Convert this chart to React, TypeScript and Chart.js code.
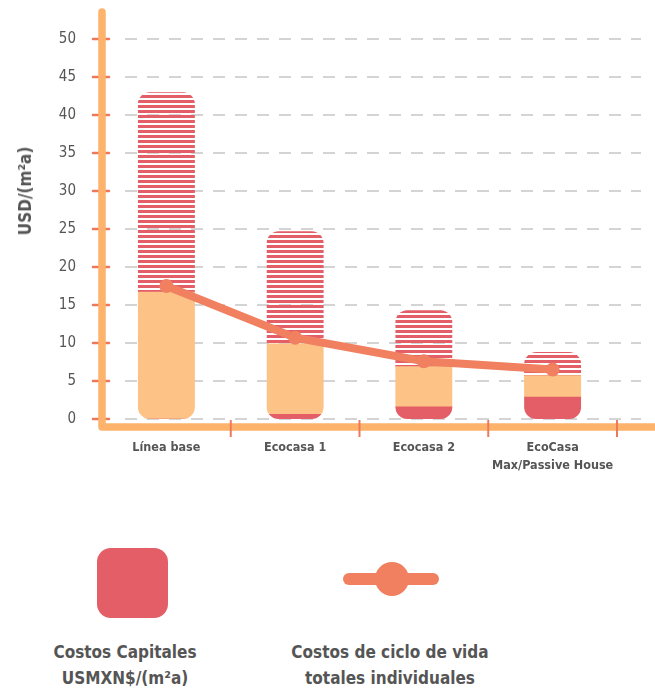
import React, { useEffect, useRef } from 'react';
import { Chart, registerables } from 'chart.js';

Chart.register(...registerables);

// ---- data ----
const categories: (string | string[])[] = ['Línea base', 'Ecocasa 1', 'Ecocasa 2', ['EcoCasa', 'Max/Passive House']];
const capitalCosts = [0, 0.6, 1.6, 2.9];
const operationCosts = [16.7, 9.3, 5.3, 2.8];
const otherCosts = [26.3, 14.8, 7.4, 3.1];
const lifeCycleTotals = [17.5, 10.7, 7.6, 6.5];
const yMin = 0;
const yMax = 50;
const yStep = 5;

const yTitle = 'USD/(m²a)';
const legendCapital = ['Costos Capitales', 'USMXN$/(m²a)'];
const legendLine = ['Costos de ciclo de vida', 'totales individuales'];

// ---- styles ----
const RED = '#E35E67';
const PEACH = '#FCC286';
const LINE = '#F0805F';
const AXIS = '#FDB36C';
const TICK = '#F0785A';
const GRID = '#C6C6C6';
const TEXT = '#555555';
const FONT = "'DejaVu Sans Condensed', 'Liberation Sans Narrow', 'DejaVu Sans', sans-serif";

function stripePattern(): CanvasPattern | string {
  const c = document.createElement('canvas');
  c.width = 8;
  c.height = 5;
  const x = c.getContext('2d');
  if (!x) return RED;
  x.fillStyle = RED;
  x.fillRect(0, 0, 8, 3);
  return x.createPattern(c, 'repeat') || RED;
}

const roundClip = {
  id: 'roundClip',
  beforeDatasetDraw(chart: any, args: any) {
    if (args.meta.type !== 'bar') return;
    const ctx = chart.ctx;
    const metas = chart.getSortedVisibleDatasetMetas().filter((m: any) => m.type === 'bar');
    ctx.save();
    ctx.beginPath();
    const n = chart.data.labels.length;
    for (let i = 0; i < n; i++) {
      let top = Infinity;
      let base = -Infinity;
      let cx = 0;
      let w = 0;
      metas.forEach((m: any) => {
        const el = m.data[i];
        if (!el) return;
        const p = el.getProps(['x', 'y', 'base', 'width'], true);
        top = Math.min(top, p.y, p.base);
        base = Math.max(base, p.y, p.base);
        cx = p.x;
        w = p.width;
      });
      if (isFinite(top)) ctx.roundRect(cx - w / 2, top, w, base - top, 12);
    }
    ctx.clip();
  },
  afterDatasetDraw(chart: any, args: any) {
    if (args.meta.type === 'bar') chart.ctx.restore();
  },
};

const axisDecor = {
  id: 'axisDecor',
  beforeDatasetsDraw(chart: any) {
    const { ctx, chartArea: a, scales } = chart;
    const x = scales.x;
    const y = scales.y;
    ctx.save();
    // dashed grid
    ctx.strokeStyle = GRID;
    ctx.lineWidth = 1.5;
    ctx.setLineDash([12, 10]);
    y.ticks.forEach((t: any) => {
      const py = y.getPixelForValue(t.value);
      ctx.beginPath();
      ctx.moveTo(a.left + 23, py);
      ctx.lineTo(a.right + 24, py);
      ctx.stroke();
    });
    ctx.setLineDash([]);
    // y tick marks
    ctx.strokeStyle = TICK;
    ctx.lineWidth = 2.5;
    ctx.lineCap = 'round';
    y.ticks.forEach((t: any) => {
      const py = y.getPixelForValue(t.value);
      ctx.beginPath();
      ctx.moveTo(a.left - 9, py);
      ctx.lineTo(a.left + 7, py);
      ctx.stroke();
    });
    // axis lines
    ctx.strokeStyle = AXIS;
    ctx.lineWidth = 7.5;
    ctx.lineJoin = 'round';
    ctx.lineCap = 'round';
    ctx.beginPath();
    ctx.moveTo(a.left, a.top - 27);
    ctx.lineTo(a.left, a.bottom + 8);
    ctx.lineTo(chart.width + 10, a.bottom + 8);
    ctx.stroke();
    // x tick marks at category boundaries
    ctx.strokeStyle = TICK;
    ctx.lineWidth = 2;
    ctx.lineCap = 'butt';
    const n = chart.data.labels.length;
    const half = (x.getPixelForValue(1) - x.getPixelForValue(0)) / 2;
    for (let i = 0; i < n; i++) {
      const px = x.getPixelForValue(i) + half;
      ctx.beginPath();
      ctx.moveTo(px, a.bottom + 1);
      ctx.lineTo(px, a.bottom + 18);
      ctx.stroke();
    }
    ctx.restore();
  },
};

export default function App() {
  const ref = useRef<HTMLCanvasElement | null>(null);

  useEffect(() => {
    if (!ref.current) return;
    const stripes = stripePattern();
    const chart = new Chart(ref.current, {
      type: 'bar',
      data: {
        labels: categories as any,
        datasets: [
          {
            type: 'line',
            label: 'Costos de ciclo de vida totales individuales',
            data: lifeCycleTotals,
            borderColor: LINE,
            backgroundColor: LINE,
            borderWidth: 8,
            pointRadius: 7,
            pointBorderWidth: 0,
            pointBackgroundColor: LINE,
            tension: 0,
            order: 0,
            stack: 'line',
          } as any,
          {
            type: 'bar',
            label: 'Costos Capitales',
            data: capitalCosts,
            backgroundColor: RED,
            borderWidth: 0,
            barThickness: 57,
            order: 1,
            stack: 'bars',
          },
          {
            type: 'bar',
            label: 'Costos de operación',
            data: operationCosts,
            backgroundColor: PEACH,
            borderWidth: 0,
            barThickness: 57,
            order: 1,
            stack: 'bars',
          },
          {
            type: 'bar',
            label: 'Otros costos',
            data: otherCosts,
            backgroundColor: stripes as any,
            borderWidth: 0,
            barThickness: 57,
            order: 1,
            stack: 'bars',
          },
        ],
      },
      options: {
        animation: false,
        responsive: true,
        maintainAspectRatio: false,
        layout: { padding: { top: 39, right: 38, left: 0, bottom: 0 } },
        plugins: {
          legend: { display: false },
          tooltip: { enabled: false },
        },
        scales: {
          x: {
            stacked: true,
            grid: { display: false, drawTicks: false },
            border: { display: false },
            ticks: {
              color: TEXT,
              font: { family: FONT, size: 12.5, weight: 'bold', lineHeight: 1.45 },
              padding: 20,
              maxRotation: 0,
              autoSkip: false,
            },
            afterFit: (s: any) => {
              s.height = 60;
            },
          },
          y: {
            stacked: true,
            min: yMin,
            max: yMax,
            grid: { display: false, drawTicks: false },
            border: { display: false },
            ticks: {
              stepSize: yStep,
              color: TEXT,
              font: { family: FONT, size: 15 },
              padding: 26,
            },
            afterFit: (s: any) => {
              s.width = 102;
            },
          },
        },
      },
      plugins: [axisDecor, roundClip],
    });
    return () => chart.destroy();
  }, []);

  const textStyle: React.CSSProperties = {
    position: 'absolute',
    width: 240,
    textAlign: 'center',
    fontFamily: FONT,
    fontSize: 17,
    fontWeight: 'bold',
    lineHeight: '26px',
    color: TEXT,
    whiteSpace: 'nowrap',
  };

  return (
    <div style={{ position: 'absolute', left: 0, top: 0, width: 655, height: 689, background: '#fff', overflow: 'hidden' }}>
      <div style={{ position: 'absolute', left: 0, top: 0, width: 655, height: 479 }}>
        <canvas ref={ref} />
      </div>
      <div
        style={{
          position: 'absolute',
          left: 25,
          top: 191,
          transform: 'translate(-50%, -50%) rotate(-90deg)',
          fontFamily: FONT,
          fontWeight: 'bold',
          fontSize: 17,
          color: TEXT,
          whiteSpace: 'nowrap',
        }}
      >
        {yTitle}
      </div>
      <div style={{ position: 'absolute', left: 97, top: 548, width: 71, height: 70, borderRadius: 14, background: RED }} />
      <div style={{ position: 'absolute', left: 343, top: 573, width: 96, height: 12, borderRadius: 6, background: LINE }} />
      <div style={{ position: 'absolute', left: 375, top: 562, width: 34, height: 34, borderRadius: '50%', background: LINE }} />
      <div style={{ ...textStyle, left: 5, top: 639 }}>
        {legendCapital[0]}
        <br />
        {legendCapital[1]}
      </div>
      <div style={{ ...textStyle, left: 270, top: 639 }}>
        {legendLine[0]}
        <br />
        {legendLine[1]}
      </div>
    </div>
  );
}
